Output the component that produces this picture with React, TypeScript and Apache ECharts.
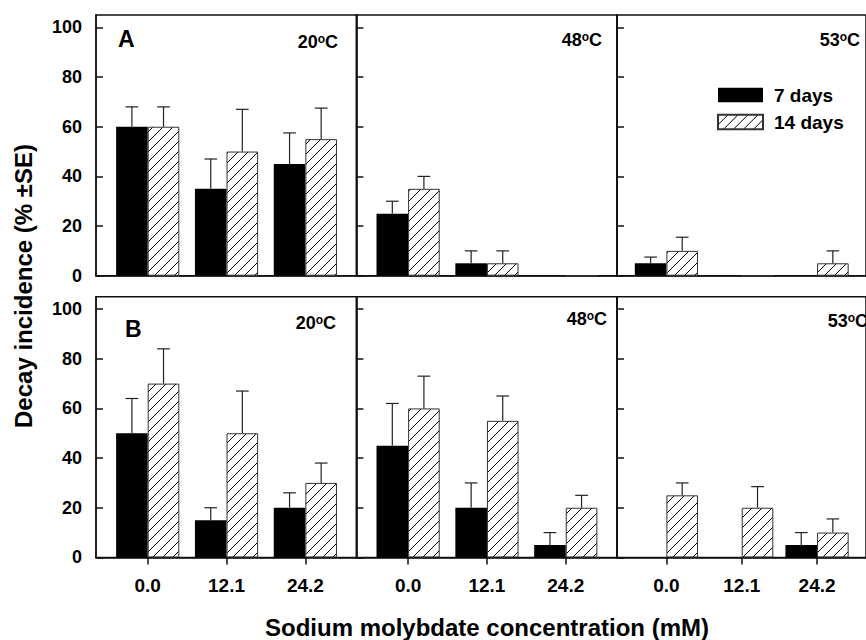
import React, { useEffect, useRef } from 'react';
import * as echarts from 'echarts';

// ---------- data ----------
const concentrations = ['0.0', '12.1', '24.2'];
const temperatures = ['20', '48', '53'];
const panelLetters = ['A', 'B'];
const seriesNames = ['7 days', '14 days'];
const yTicks = [0, 20, 40, 60, 80, 100];

// Row A (index by temperature: 20, 48, 53 ºC), values per concentration
const meanA7 = [[60, 35, 45], [25, 5, 0], [5, 0, 0]];
const seA7 = [[8, 12, 12.5], [5, 5, 0], [2.5, 0, 0]];
const meanA14 = [[60, 50, 55], [35, 5, 0], [10, 0, 5]];
const seA14 = [[8, 17, 12.5], [5, 5, 0], [5.5, 0, 5]];

// Row B
const meanB7 = [[50, 15, 20], [45, 20, 5], [0, 0, 5]];
const seB7 = [[14, 5, 6], [17, 10, 5], [0, 0, 5]];
const meanB14 = [[70, 50, 30], [60, 55, 20], [25, 20, 10]];
const seB14 = [[14, 17, 8], [13, 10, 5], [5, 8.5, 5.5]];

// ---------- layout ----------
const FONT = '"Liberation Sans", Arial, Helvetica, sans-serif';
const PANEL_LEFT = [96, 356.4, 617];
const PANEL_W = 260.6;
const ROW_TOP = [15, 296.7];
const ROW_H = 260.7;
const X_MIN = -0.656;
const X_MAX = 2.65;
const BAR_W = 31.6;
const CAP_W = 12.7;
const AXIS_COLOR = '#111';

const tempLabelPos = [
  [[338, 42], [602, 40], [860, 40]],
  [[336, 323], [607, 318.5], [868, 320.5]],
];
const letterPos = [[118, 38.5], [125, 328.5]];

function makeHatch() {
  const cv = document.createElement('canvas');
  cv.width = 10;
  cv.height = 10;
  const ctx = cv.getContext('2d')!;
  ctx.fillStyle = '#fff';
  ctx.fillRect(0, 0, 10, 10);
  ctx.strokeStyle = '#000';
  ctx.lineWidth = 1;
  ctx.beginPath();
  ctx.moveTo(-1, 11);
  ctx.lineTo(11, -1);
  ctx.moveTo(-1, 1);
  ctx.lineTo(1, -1);
  ctx.moveTo(9, 11);
  ctx.lineTo(11, 9);
  ctx.stroke();
  return { image: cv, repeat: 'repeat', imageWidth: 10, imageHeight: 10 } as any;
}

export default function App() {
  const ref = useRef<HTMLDivElement>(null);

  useEffect(() => {
    if (!ref.current) return;
    const chart = echarts.init(ref.current, null, { renderer: 'svg' });
    const hatch = makeHatch();

    const rows = [
      { m7: meanA7, s7: seA7, m14: meanA14, s14: seA14 },
      { m7: meanB7, s7: seB7, m14: meanB14, s14: seB14 },
    ];

    const grid: any[] = [];
    const xAxis: any[] = [];
    const yAxis: any[] = [];
    const series: any[] = [];
    const graphic: any[] = [];

    rows.forEach((row, r) => {
      temperatures.forEach((t, c) => {
        const g = r * 3 + c;
        grid.push({
          left: PANEL_LEFT[c],
          top: ROW_TOP[r],
          width: PANEL_W,
          height: ROW_H,
          show: true,
          borderColor: AXIS_COLOR,
          borderWidth: 1.5,
          backgroundColor: 'transparent',
          containLabel: false,
        });
        xAxis.push({
          type: 'value',
          gridIndex: g,
          min: X_MIN,
          max: X_MAX,
          splitLine: { show: false },
          axisLine: { show: true, onZero: false, lineStyle: { color: AXIS_COLOR, width: 1.5 } },
          axisTick: {
            show: r === 1,
            customValues: [0, 1, 2],
            inside: false,
            length: 7,
            lineStyle: { color: AXIS_COLOR, width: 1.5 },
          },
          axisLabel: {
            show: r === 1,
            customValues: [0, 1, 2],
            formatter: (v: number) => concentrations[Math.round(v)] ?? '',
            margin: 19,
            fontSize: 19,
            fontWeight: 'bold',
            fontFamily: FONT,
            color: '#000',
          },
        });
        yAxis.push({
          type: 'value',
          gridIndex: g,
          min: 0,
          max: 105,
          interval: 20,
          splitLine: { show: false },
          axisLine: { show: true, onZero: false, lineStyle: { color: AXIS_COLOR, width: 1.5 } },
          axisTick: {
            show: true,
            inside: true,
            length: 7,
            customValues: yTicks,
            lineStyle: { color: AXIS_COLOR, width: 1.5 },
          },
          axisLabel: {
            show: c === 0,
            customValues: yTicks,
            formatter: (v: number) => (v > 100 ? '' : String(v)),
            margin: 14,
            fontSize: 18,
            fontWeight: 'bold',
            fontFamily: FONT,
            color: '#000',
          },
        });

        const m7 = row.m7[c];
        const s7 = row.s7[c];
        const m14 = row.m14[c];
        const s14 = row.s14[c];

        series.push({
          type: 'bar',
          name: seriesNames[0],
          xAxisIndex: g,
          yAxisIndex: g,
          barWidth: BAR_W,
          barGap: '0%',
          data: m7.map((v, i) => [i, v]),
          itemStyle: { color: '#000' },
          z: 2,
        });
        series.push({
          type: 'bar',
          name: seriesNames[1],
          xAxisIndex: g,
          yAxisIndex: g,
          barWidth: BAR_W,
          barGap: '0%',
          data: m14.map((v, i) => [i, v]),
          itemStyle: { color: hatch, borderColor: '#333', borderWidth: 1 },
          z: 2,
        });
        const errData: number[][] = [];
        m7.forEach((v, i) => errData.push([i, v, s7[i], 0]));
        m14.forEach((v, i) => errData.push([i, v, s14[i], 1]));
        series.push({
          type: 'custom',
          name: 'SE',
          xAxisIndex: g,
          yAxisIndex: g,
          z: 3,
          data: errData,
          renderItem: (params: any, api: any) => {
            const x = api.value(0);
            const mean = api.value(1);
            const se = api.value(2);
            const which = api.value(3);
            if (!(se > 0)) return null;
            const base = api.coord([x, mean]);
            const top = api.coord([x, mean + se]);
            const cx = base[0] + (which === 0 ? -BAR_W / 2 : BAR_W / 2);
            const style = { stroke: '#222', lineWidth: 1.2 };
            return {
              type: 'group',
              children: [
                { type: 'line', shape: { x1: cx, y1: base[1], x2: cx, y2: top[1] }, style },
                { type: 'line', shape: { x1: cx - CAP_W / 2, y1: top[1], x2: cx + CAP_W / 2, y2: top[1] }, style },
              ],
            };
          },
        });

        const [tx, ty] = tempLabelPos[r][c];
        graphic.push({
          type: 'text',
          x: tx,
          y: ty,
          style: {
            text: `{n|${t}}{s|o}{n|C}`,
            align: 'right',
            verticalAlign: 'middle',
            rich: {
              n: { fontSize: 18, fontWeight: 'bold', fontFamily: FONT, fill: '#000', lineHeight: 18 },
              s: { fontSize: 12, fontWeight: 'bold', fontFamily: FONT, fill: '#000', verticalAlign: 'top', lineHeight: 8 },
            },
          },
          z: 10,
        });
      });
      graphic.push({
        type: 'text',
        x: letterPos[r][0],
        y: letterPos[r][1],
        style: {
          text: panelLetters[r],
          fontSize: 23,
          fontWeight: 'bold',
          fontFamily: FONT,
          fill: '#000',
          align: 'left',
          verticalAlign: 'middle',
        },
        z: 10,
      });
    });

    graphic.push({
      type: 'text',
      x: 23,
      y: 286,
      rotation: Math.PI / 2,
      style: {
        text: 'Decay incidence (% ±SE)',
        fontSize: 24,
        fontWeight: 'bold',
        fontFamily: FONT,
        fill: '#000',
        align: 'center',
        verticalAlign: 'middle',
      },
    });
    graphic.push({
      type: 'text',
      x: 487,
      y: 627,
      style: {
        text: 'Sodium molybdate concentration (mM)',
        fontSize: 24,
        fontWeight: 'bold',
        fontFamily: FONT,
        fill: '#000',
        align: 'center',
        verticalAlign: 'middle',
      },
    });

    chart.setOption({
      animation: false,
      backgroundColor: '#fff',
      grid,
      xAxis,
      yAxis,
      series,
      graphic,
      legend: {
        data: seriesNames,
        orient: 'vertical',
        left: 717,
        top: 85.5,
        padding: 0,
        icon: 'rect',
        itemWidth: 45,
        itemHeight: 14.5,
        itemGap: 8,
        selectedMode: false,
        textStyle: {
          fontSize: 19,
          fontWeight: 'bold',
          fontFamily: FONT,
          color: '#000',
          lineHeight: 19,
          padding: [0, 0, 0, 6],
        },
      },
    });

    return () => chart.dispose();
  }, []);

  return (
    <div
      ref={ref}
      style={{ position: 'fixed', left: 0, top: 0, width: 866, height: 640 }}
    />
  );
}
